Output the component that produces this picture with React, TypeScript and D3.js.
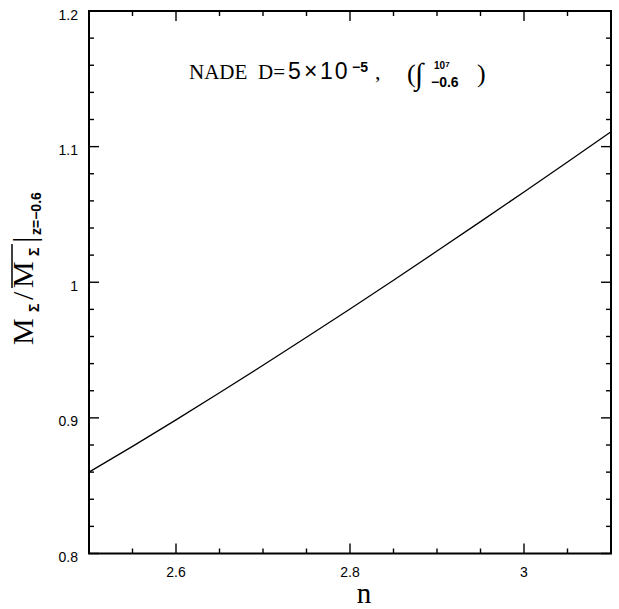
import React from "react";
import * as d3 from "d3";

// Mass ratio versus n (sampled curve)
const nValues = [2.5, 2.55, 2.6, 2.65, 2.7, 2.75, 2.8, 2.85, 2.9, 2.95, 3.0, 3.05, 3.1];
const ratioValues = [
  0.86, 0.879, 0.8985, 0.9185, 0.9388, 0.9594, 0.9803, 1.0015, 1.023, 1.0447, 1.0666, 1.0887,
  1.111,
];

const xMajorTicks = [2.6, 2.8, 3.0];
const xTickLabels = ["2.6", "2.8", "3"];
const yMajorTicks = [0.8, 0.9, 1.0, 1.1, 1.2];
const yTickLabels = ["0.8", "0.9", "1", "1.1", "1.2"];

const W = 619;
const H = 609;
const plot = { left: 89, right: 611, top: 11, bottom: 553.5 };

const SANS = "'Liberation Sans', Arial, sans-serif";
const SERIF = "'Liberation Serif', 'Times New Roman', serif";

export default function App() {
  const x = d3.scaleLinear().domain([2.5, 3.1]).range([plot.left, plot.right]);
  const y = d3.scaleLinear().domain([0.8, 1.2]).range([plot.bottom, plot.top]);

  const xMinor = d3
    .range(2.55, 3.1, 0.05)
    .filter((v) => !xMajorTicks.some((m) => Math.abs(m - v) < 1e-6));
  const yMinor = d3
    .range(0.82, 1.2, 0.02)
    .filter((v) => !yMajorTicks.some((m) => Math.abs(m - v) < 1e-6));

  const line = d3
    .line<number>()
    .x((_, i) => x(nValues[i]))
    .y((d) => y(d))
    .curve(d3.curveMonotoneX);

  const major = 10;
  const minor = 5;

  return (
    <svg width={W} height={H} style={{ position: "absolute", left: 0, top: 0, background: "#fff" }}>
      <rect x={0} y={0} width={W} height={H} fill="#fff" />

      {/* ticks on all four sides, pointing inward */}
      <g stroke="#000" strokeWidth={1.4}>
        {xMajorTicks.map((v) => (
          <g key={"xM" + v}>
            <line x1={x(v)} x2={x(v)} y1={plot.bottom} y2={plot.bottom - major} />
            <line x1={x(v)} x2={x(v)} y1={plot.top} y2={plot.top + major} />
          </g>
        ))}
        {xMinor.map((v) => (
          <g key={"xm" + v}>
            <line x1={x(v)} x2={x(v)} y1={plot.bottom} y2={plot.bottom - minor} />
            <line x1={x(v)} x2={x(v)} y1={plot.top} y2={plot.top + minor} />
          </g>
        ))}
        {yMajorTicks.map((v) => (
          <g key={"yM" + v}>
            <line x1={plot.left} x2={plot.left + major} y1={y(v)} y2={y(v)} />
            <line x1={plot.right} x2={plot.right - major} y1={y(v)} y2={y(v)} />
          </g>
        ))}
        {yMinor.map((v) => (
          <g key={"ym" + v}>
            <line x1={plot.left} x2={plot.left + minor} y1={y(v)} y2={y(v)} />
            <line x1={plot.right} x2={plot.right - minor} y1={y(v)} y2={y(v)} />
          </g>
        ))}
      </g>

      {/* frame */}
      <rect
        x={plot.left}
        y={plot.top}
        width={plot.right - plot.left}
        height={plot.bottom - plot.top}
        fill="none"
        stroke="#000"
        strokeWidth={2}
      />

      {/* curve */}
      <path d={line(ratioValues) || ""} fill="none" stroke="#000" strokeWidth={1.3} />

      {/* tick labels */}
      <g fontFamily={SANS} fontSize={14} fill="#000">
        {xMajorTicks.map((v, i) => (
          <text key={"xl" + v} x={x(v)} y={577} textAnchor="middle">
            {xTickLabels[i]}
          </text>
        ))}
        {yMajorTicks.map((v, i) => (
          <text key={"yl" + v} x={78} y={y(v) + 8.5} textAnchor="end">
            {yTickLabels[i]}
          </text>
        ))}
      </g>

      {/* x axis title */}
      <text x={364} y={603} textAnchor="middle" fontFamily={SERIF} fontSize={29}>
        n
      </text>

      {/* y axis title: M_Σ / overline(M_Σ) |_{z=-0.6} */}
      <g transform="translate(33, 347) rotate(-90)" fill="#000">
        <text x={2} y={0} fontFamily={SERIF} fontSize={30}>M</text>
        <text x={35} y={6} fontFamily={SANS} fontWeight="bold" fontSize={14}>Σ</text>
        <text x={47} y={0} fontFamily={SERIF} fontSize={30}>/</text>
        <text x={59} y={0} fontFamily={SERIF} fontSize={30}>M</text>
        <text x={91} y={6} fontFamily={SANS} fontWeight="bold" fontSize={14}>Σ</text>
        <line x1={59} x2={103} y1={-21} y2={-21} stroke="#000" strokeWidth={1.5} />
        <text x={104} y={2} fontFamily={SERIF} fontSize={32}>|</text>
        <text x={112} y={8} fontFamily={SANS} fontWeight="bold" fontSize={14}>z=−0.6</text>
      </g>

      {/* annotation */}
      <g fill="#000">
        <text x={189} y={79} fontFamily={SERIF} fontSize={21}>NADE</text>
        <text x={258} y={79} fontFamily={SERIF} fontSize={21}>D=</text>
        <text x={288} y={79} fontFamily={SANS} fontSize={23}>5</text>
        <text x={304} y={79} fontFamily={SANS} fontSize={23}>×</text>
        <text x={320} y={79} fontFamily={SANS} fontSize={23} letterSpacing={2}>10</text>
        <text x={352} y={72} fontFamily={SANS} fontWeight="bold" fontSize={14}>−5</text>
        <text x={375} y={79} fontFamily={SERIF} fontSize={22}>,</text>
        <text x={407} y={82} fontFamily={SERIF} fontSize={26}>(</text>
        <text x={415} y={84} fontFamily={SERIF} fontStyle="italic" fontSize={30}>∫</text>
        <text x={434} y={69} fontFamily={SANS} fontWeight="bold" fontSize={10}>
          10<tspan fontSize={8} dy={-2}>7</tspan>
        </text>
        <text x={431} y={87} fontFamily={SANS} fontWeight="bold" fontSize={14}>−0.6</text>
        <text x={477} y={82} fontFamily={SERIF} fontSize={26}>)</text>
      </g>
    </svg>
  );
}
